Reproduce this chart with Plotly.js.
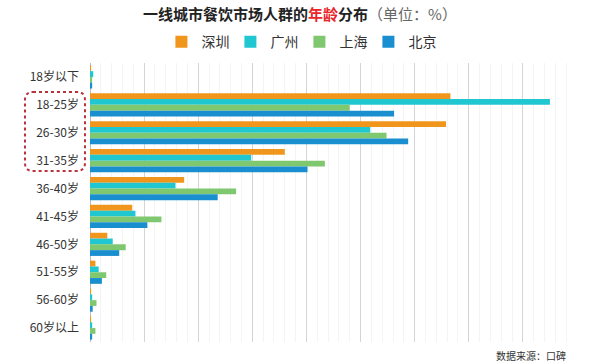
<!DOCTYPE html>
<html>
<head>
<meta charset="utf-8">
<script src="https://cdn.plot.ly/plotly-3.0.1.min.js"></script>
<style>
html,body{margin:0;padding:0;background:#fff;}
#chart{width:600px;height:363px;}
</style>
</head>
<body>
<div id="chart"></div>
<script>
// Age groups (top to bottom)
var categories = ["18岁以下","18-25岁","26-30岁","31-35岁","36-40岁","41-45岁","46-50岁","51-55岁","56-60岁","60岁以上"];
// Share of diners per city (%)
var shenzhen  = [0.1, 33.3, 32.9, 18.0, 8.7, 3.9, 1.6, 0.5, 0.1, 0.1];
var guangzhou = [0.3, 42.5, 25.9, 14.9, 7.9, 4.2, 2.1, 0.8, 0.2, 0.2];
var shanghai  = [0.2, 24.0, 27.4, 21.7, 13.5, 6.6, 3.3, 1.5, 0.6, 0.5];
var beijing   = [0.2, 28.1, 29.4, 20.1, 11.8, 5.3, 2.7, 1.1, 0.25, 0.2];
var seriesNames = ["深圳","广州","上海","北京"];
var seriesColors = ["#F0961C","#20C7D1","#7FC86F","#1A8FD0"];

var allSeries = [shenzhen, guangzhou, shanghai, beijing];
var traces = allSeries.map(function(vals, i){
  return {
    type: "bar",
    orientation: "h",
    name: seriesNames[i],
    x: vals,
    y: categories,
    marker: {color: seriesColors[i]},
    hoverinfo: "x+name"
  };
});

var layout = {
  width: 600,
  height: 363,
  paper_bgcolor: "#ffffff",
  plot_bgcolor: "#ffffff",
  margin: {l: 90, r: 23, t: 63, b: 21},
  barmode: "group",
  bargap: 0.17,
  bargroupgap: 0,
  font: {family: "'Noto Sans CJK SC', 'Noto Sans', sans-serif", color: "#333"},
  title: {
    text: "<b>一线城市餐饮市场人群的<span style='color:#E8262B'>年龄</span>分布</b><span style='color:#666'>（单位：%）</span>",
    x: 0.5, xanchor: "center",
    y: 0.958, yanchor: "middle",
    font: {size: 15, color: "#222"}
  },
  showlegend: true,
  legend: {
    orientation: "h",
    x: 0.43, xanchor: "center",
    y: 1.075, yanchor: "middle",
    font: {size: 14, color: "#333"},
    traceorder: "normal",
    itemwidth: 30,
    entrywidth: 24,
    entrywidthmode: "pixels"
  },
  xaxis: {
    range: [0, 45],
    dtick: 5,
    showticklabels: false,
    showgrid: true,
    gridcolor: "#d4d4d4",
    gridwidth: 1,
    zeroline: true,
    zerolinecolor: "#bbbbbb",
    zerolinewidth: 1,
    minor: {dtick: 1, showgrid: true, gridcolor: "#f4f4f4", gridwidth: 1},
    fixedrange: true
  },
  yaxis: {
    autorange: "reversed",
    type: "category",
    tickfont: {size: 12, color: "#333"},
    ticklabelstandoff: 10,
    showgrid: false,
    zeroline: false,
    fixedrange: true
  },
  shapes: [{
    type: "path",
    xref: "paper", yref: "paper",
    path: "M -0.117 0.896 L -0.027 0.896 Q -0.0103 0.896 -0.0103 0.867 L -0.0103 0.642 Q -0.0103 0.613 -0.027 0.613 L -0.117 0.613 Q -0.1335 0.613 -0.1335 0.642 L -0.1335 0.867 Q -0.1335 0.896 -0.117 0.896 Z",
    line: {color: "#B8333A", width: 2, dash: "dot"},
    fillcolor: "rgba(0,0,0,0)"
  }],
  annotations: [{
    text: "数据来源：口碑",
    xref: "paper", yref: "paper",
    x: 0.982, y: -0.047,
    xanchor: "right", yanchor: "middle",
    showarrow: false,
    font: {size: 10, color: "#333"}
  }]
};

Plotly.newPlot("chart", traces, layout, {displayModeBar: false, staticPlot: true});
</script>
</body>
</html>
